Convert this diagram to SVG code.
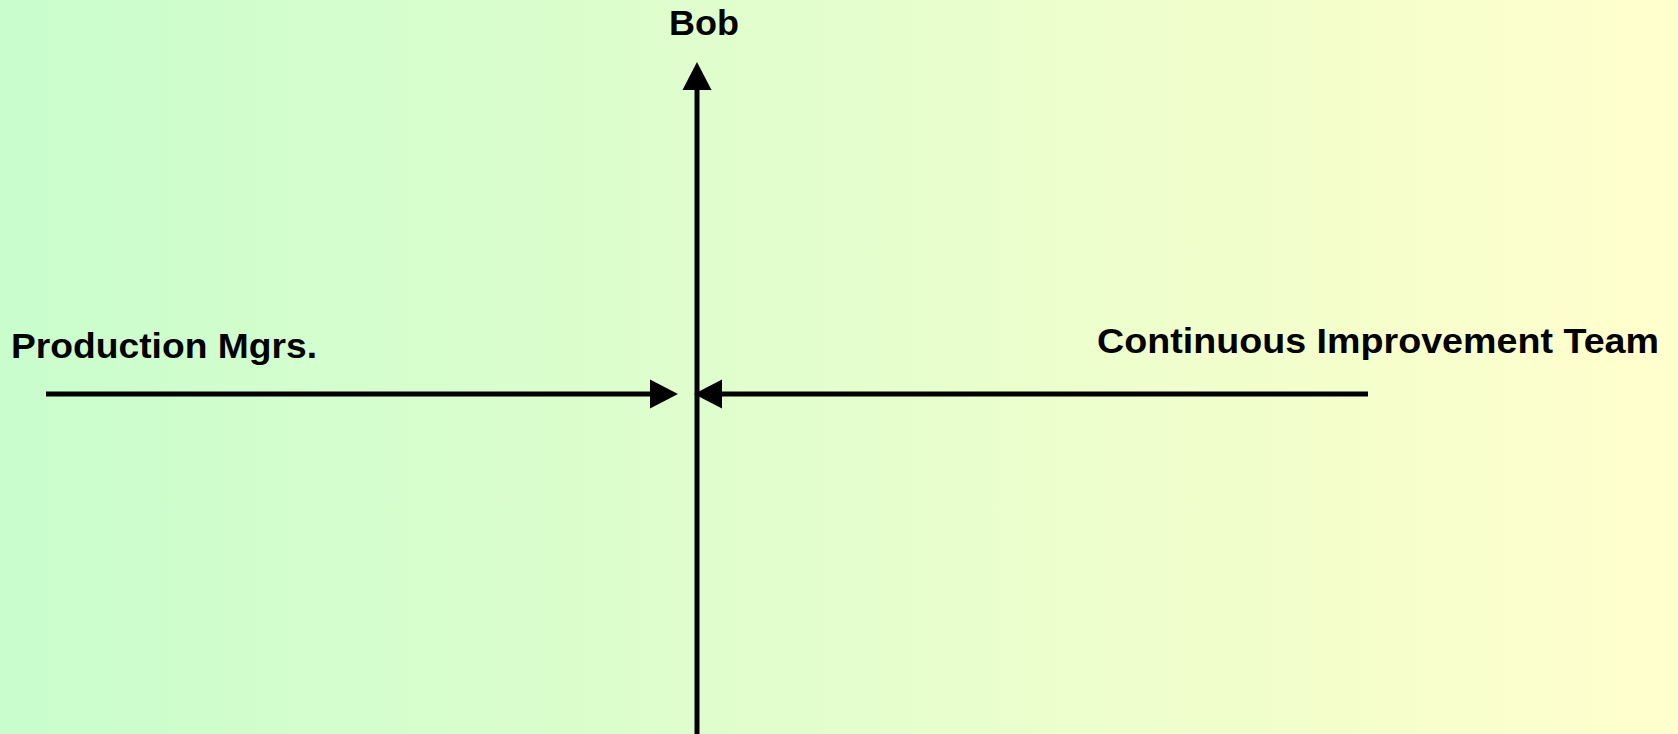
<svg xmlns="http://www.w3.org/2000/svg" width="1678" height="734" viewBox="0 0 1678 734">
  <defs>
    <linearGradient id="bg" x1="0" y1="0" x2="1" y2="0">
      <stop offset="0" stop-color="#c9fdcd"/>
      <stop offset="1" stop-color="#ffffcc"/>
    </linearGradient>
    <!-- filled triangle head; base sits on the line end, tip points forward -->
    <marker id="head" markerUnits="userSpaceOnUse" markerWidth="29" markerHeight="29" refX="0" refY="14.5" orient="auto" overflow="visible">
      <path d="M0,0 L28,14.5 L0,29 Z" fill="#000"/>
    </marker>
    <style>
      .label { font-family: "Liberation Sans", Arial, sans-serif; font-weight: bold; font-size: 35px; fill: #000; }
      .axis { stroke: #000; stroke-width: 5; fill: none; marker-end: url(#head); }
    </style>
  </defs>

  <rect x="0" y="0" width="1678" height="734" fill="url(#bg)"/>

  <g id="connectors">
    <line class="axis" x1="697" y1="734" x2="697" y2="90"/>
    <line class="axis" x1="46" y1="394" x2="650" y2="394"/>
    <line class="axis" x1="1368" y1="394" x2="722" y2="394"/>
  </g>

  <g id="bob">
    <text class="label" x="669" y="35" textLength="70" lengthAdjust="spacingAndGlyphs">Bob</text>
  </g>

  <g id="production-mgrs">
    <text class="label" x="11" y="358" textLength="306" lengthAdjust="spacingAndGlyphs">Production Mgrs.</text>
  </g>

  <g id="ci-team">
    <text class="label" x="1097" y="353" textLength="562" lengthAdjust="spacingAndGlyphs">Continuous Improvement Team</text>
  </g>
</svg>
